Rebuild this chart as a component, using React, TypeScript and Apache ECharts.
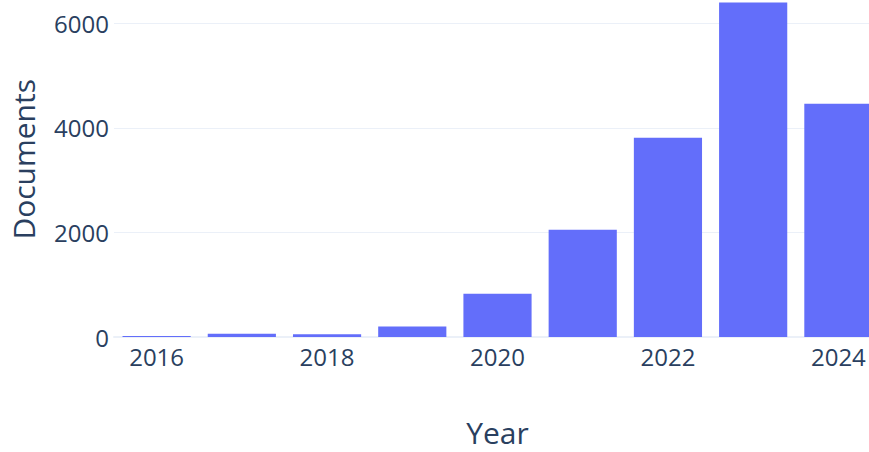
import React, { useEffect, useRef } from "react";
import * as echarts from "echarts";

const years = ["2016", "2017", "2018", "2019", "2020", "2021", "2022", "2023", "2024"];
const documents = [20, 60, 55, 200, 826, 2054, 3810, 6400, 4462];
const xAxisTitle = "Year";
const yAxisTitle = "Documents";

const OFFSET_TOP = 30;
const CHART_W = 900;
const CHART_H = 452 + OFFSET_TOP;

export default function App() {
  const ref = useRef<HTMLDivElement>(null);
  useEffect(() => {
    document.body.style.margin = "0";
    if (!ref.current) return;
    const chart = echarts.init(ref.current, undefined, { renderer: "svg" });
    const textColor = "#2a3f5f";
    const font = "'Open Sans', 'Noto Sans', sans-serif";
    chart.setOption({
      animation: false,
      grid: {
        left: 113.5,
        right: CHART_W - 881,
        top: OFFSET_TOP - 18.4,
        bottom: 114.5,
        containLabel: false,
      },
      xAxis: {
        type: "category",
        data: years,
        name: xAxisTitle,
        nameLocation: "middle",
        nameGap: 80,
        nameTextStyle: { color: textColor, fontSize: 30, fontFamily: font },
        axisLine: { show: true, lineStyle: { color: "#ebf0f8", width: 2 } },
        axisTick: { show: false },
        axisLabel: {
          color: textColor,
          fontSize: 24,
          fontFamily: font,
          margin: 7,
          interval: 1,
        },
      },
      yAxis: {
        type: "value",
        min: 0,
        max: 6800,
        interval: 2000,
        name: yAxisTitle,
        nameLocation: "middle",
        nameGap: 76,
        nameTextStyle: { color: textColor, fontSize: 30, fontFamily: font },
        axisLine: { show: false },
        axisTick: { show: false },
        splitLine: { lineStyle: { color: "#ebf0f8", width: 1 } },
        axisLabel: {
          color: textColor,
          fontSize: 24,
          fontFamily: font,
          margin: 5,
          formatter: (v: number) => (v % 2000 === 0 ? String(v) : ""),
        },
      },
      series: [
        {
          type: "bar",
          data: documents,
          barCategoryGap: "20%",
          itemStyle: { color: "#636efa" },
        },
      ],
    });
    return () => chart.dispose();
  }, []);
  return (
    <div style={{ width: 869, height: 452, overflow: "hidden", position: "relative" }}>
      <div
        ref={ref}
        style={{ position: "absolute", left: 0, top: -OFFSET_TOP, width: CHART_W, height: CHART_H }}
      />
    </div>
  );
}
